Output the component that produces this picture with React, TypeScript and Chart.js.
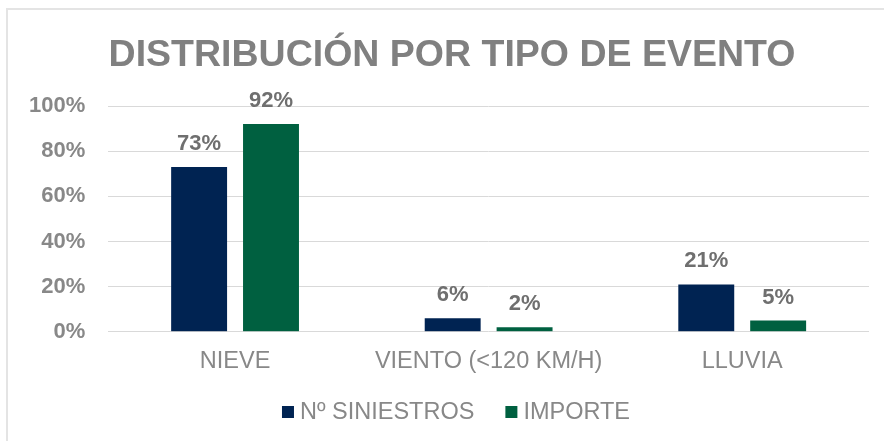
import React, { useEffect, useRef } from "react";
import { Chart, registerables } from "chart.js";

Chart.register(...registerables);

const TITLE = "DISTRIBUCIÓN POR TIPO DE EVENTO";
const categories = ["NIEVE", "VIENTO (<120 KM/H)", "LLUVIA"];
const siniestros = [73, 6, 21];
const importe = [92, 2, 5];
const seriesNames = ["Nº SINIESTROS", "IMPORTE"];
const seriesColors = ["#002352", "#006040"];
const yTicks = [0, 20, 40, 60, 80, 100];

const FONT = "'Liberation Sans', Arial, sans-serif";

const titlePlugin = {
  id: "customTitle",
  afterDraw(chart: any) {
    const ctx = chart.ctx;
    ctx.save();
    ctx.font = `bold 37.5px ${FONT}`;
    ctx.fillStyle = "#808080";
    ctx.textAlign = "center";
    ctx.textBaseline = "middle";
    ctx.fillText(TITLE, chart.width / 2 + 10, 55.5);
    ctx.restore();
  },
};

const dataLabelPlugin = {
  id: "dataLabels",
  afterDatasetsDraw(chart: any) {
    const ctx = chart.ctx;
    ctx.save();
    ctx.font = `bold 22px ${FONT}`;
    ctx.fillStyle = "#6f6f6f";
    ctx.textAlign = "center";
    ctx.textBaseline = "alphabetic";
    chart.data.datasets.forEach((ds: any, i: number) => {
      const meta = chart.getDatasetMeta(i);
      meta.data.forEach((el: any, j: number) => {
        ctx.fillText(`${ds.data[j]}%`, el.x, el.y - 17);
      });
    });
    ctx.restore();
  },
};

const legendPlugin = {
  id: "customLegend",
  afterDraw(chart: any) {
    const ctx = chart.ctx;
    ctx.save();
    ctx.font = `23.5px ${FONT}`;
    const box = 12;
    const gap = 6;
    const spacing = 31;
    const widths = seriesNames.map((n) => ctx.measureText(n).width);
    const total = widths.reduce((a, w) => a + box + gap + w, 0) + spacing * (seriesNames.length - 1);
    let x = chart.width / 2 + 14 - total / 2;
    const yMid = chart.height - 29;
    seriesNames.forEach((n, i) => {
      ctx.fillStyle = seriesColors[i];
      ctx.fillRect(x, yMid - box / 2, box, box);
      x += box + gap;
      ctx.fillStyle = "#888888";
      ctx.textBaseline = "middle";
      ctx.textAlign = "left";
      ctx.fillText(n, x, yMid + 1);
      x += widths[i] + spacing;
    });
    ctx.restore();
  },
};

export default function App() {
  const ref = useRef<HTMLCanvasElement | null>(null);
  useEffect(() => {
    if (!ref.current) return;
    const chart = new Chart(ref.current, {
      type: "bar",
      data: {
        labels: categories,
        datasets: [
          {
            label: seriesNames[0],
            data: siniestros,
            backgroundColor: seriesColors[0],
            categoryPercentage: 0.567,
            barPercentage: 0.778,
          },
          {
            label: seriesNames[1],
            data: importe,
            backgroundColor: seriesColors[1],
            categoryPercentage: 0.567,
            barPercentage: 0.778,
          },
        ],
      },
      options: {
        responsive: false,
        animation: false,
        devicePixelRatio: 1,
        layout: { padding: { left: 6, right: 15, top: 106, bottom: 49 } },
        plugins: {
          legend: { display: false },
          tooltip: { enabled: false },
          title: { display: false },
        },
        scales: {
          x: {
            grid: { display: false, drawTicks: false },
            border: { display: false },
            ticks: {
              color: "#888888",
              font: { family: FONT, size: 23.5 },
              padding: 16,
              maxRotation: 0,
            },
          },
          y: {
            min: 0,
            max: 100,
            afterBuildTicks(axis: any) {
              axis.ticks = yTicks.map((v) => ({ value: v }));
            },
            grid: { color: "#d9d9d9", lineWidth: 1, drawTicks: false },
            border: { display: false },
            ticks: {
              color: "#888888",
              font: { family: FONT, size: 22, weight: "bold" },
              padding: 23,
              callback: (v: any) => `${v}%`,
            },
          },
        },
      },
      plugins: [titlePlugin, dataLabelPlugin, legendPlugin],
    });
    return () => chart.destroy();
  }, []);

  return (
    <div
      style={{
        position: "fixed",
        left: 0,
        top: 0,
        width: 884,
        height: 441,
        overflow: "hidden",
        background: "#ffffff",
      }}
    >
      <div
        style={{
          position: "absolute",
          left: 6,
          top: 8,
          width: 900,
          height: 460,
          borderTop: "2px solid #e4e4e4",
          borderLeft: "2px solid #e4e4e4",
        }}
      />
      <canvas
        ref={ref}
        width={884}
        height={441}
        style={{ position: "absolute", left: 0, top: 0, width: 884, height: 441 }}
      />
    </div>
  );
}
